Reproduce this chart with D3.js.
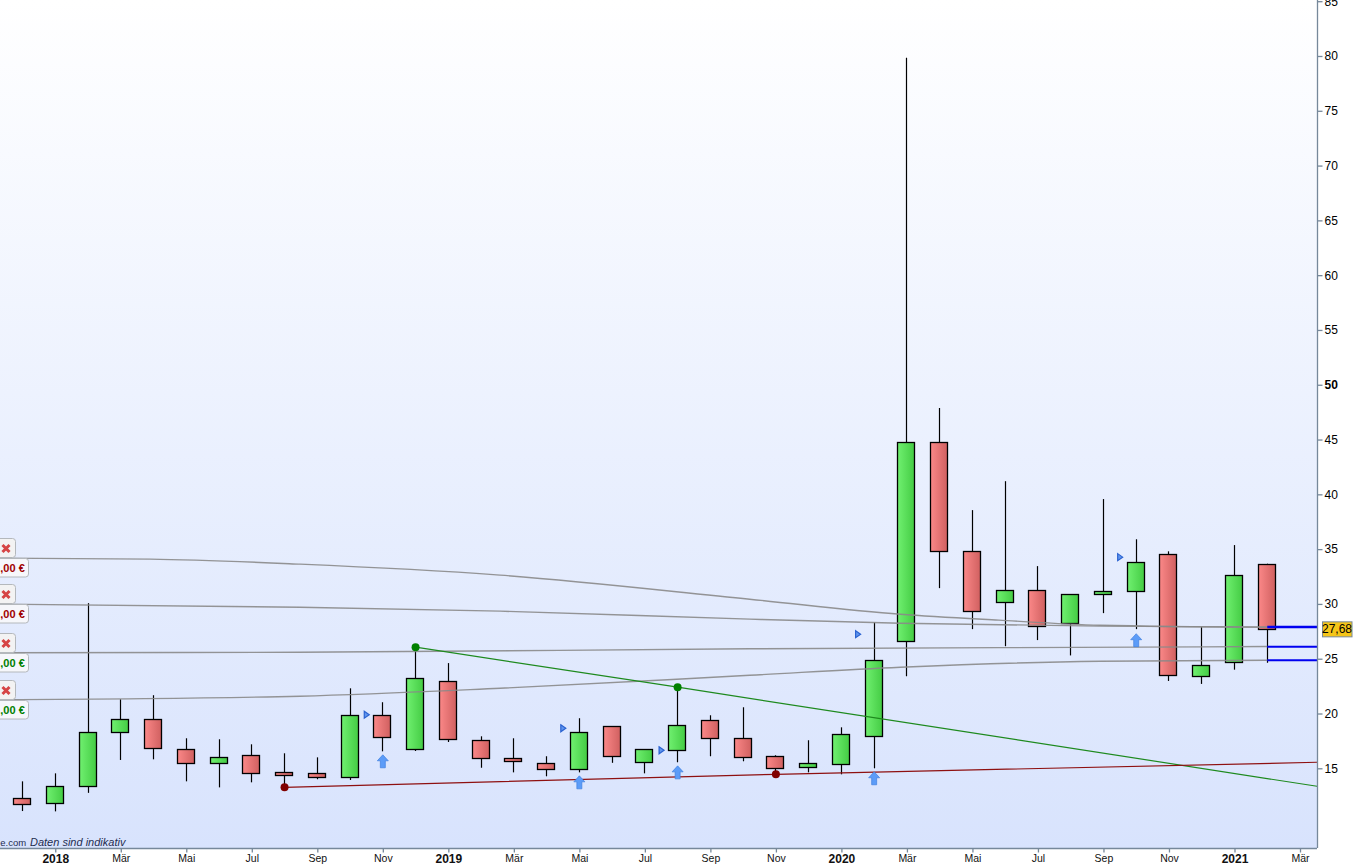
<!DOCTYPE html>
<html><head><meta charset="utf-8">
<script src="https://cdn.jsdelivr.net/npm/d3@7"></script>
<style>html,body{margin:0;padding:0;background:#fff;overflow:hidden}svg{display:block}text{font-family:"Liberation Sans",Arial,sans-serif}</style>
</head><body><svg id="c" width="1354" height="866"></svg>
<script>
const highs=[13.81,14.54,30.07,21.3,21.67,17.74,17.65,17.19,16.37,16.0,22.3,21.03,25.96,24.6,17.92,17.74,16.1,19.57,18.83,16.75,22.4,19.84,20.57,16.19,17.56,18.74,28.33,79.84,47.88,38.56,41.2,33.45,30.9,39.57,35.9,34.8,27.9,35.37,33.67];
const lows=[11.1,11.07,12.76,15.76,15.82,13.81,13.26,13.72,13.26,14.0,13.93,16.55,16.58,17.4,15.05,14.63,14.27,14.63,15.5,14.54,15.55,16.1,15.64,14.63,14.63,14.45,15.0,23.4,31.44,27.7,26.14,26.7,25.3,29.16,27.7,22.97,22.7,24.0,24.63];
const opens=[12.3,11.85,13.36,18.29,19.47,16.78,15.5,16.23,14.63,14.54,14.24,19.89,16.8,22.95,17.6,15.96,15.5,14.9,18.83,15.55,16.64,19.38,17.74,16.1,15.09,15.37,17.92,26.6,44.77,34.8,30.16,31.26,28.24,30.9,31.16,34.6,23.45,24.68,33.67];
const closes=[11.76,13.4,18.29,19.52,16.87,15.5,16.05,14.59,14.36,14.22,19.9,17.83,23.28,17.65,15.96,15.68,14.95,18.29,16.1,16.75,18.93,17.74,16.0,15.0,15.46,18.1,24.86,44.77,34.8,29.34,31.26,27.97,30.9,31.16,33.8,23.47,24.47,32.67,27.68];
const monthTicks=[1,3,5,7,9,11,13,15,17,19,21,23,25,27,29,31,33,35,37,39];
const monthLabels=["2018","Mär","Mai","Jul","Sep","Nov","2019","Mär","Mai","Jul","Sep","Nov","2020","Mär","Mai","Jul","Sep","Nov","2021","Mär"];
const priceTicks=[15,20,25,30,35,40,45,50,55,60,65,70,75,80,85];
const curveA=[[-0.69,34.18],[3.9,34.09],[8.47,33.63],[14.58,32.63],[22.2,30.43],[26.8,29.06],[29.8,28.52],[32.9,28.06],[38,27.88]];
const curveB=[[-0.69,29.98],[8.47,29.7],[14.58,29.34],[22.2,28.61],[26.8,28.24],[32.9,27.97],[38,27.88]];
const curveC=[[-0.69,25.55],[8.47,25.59],[22.2,25.91],[36,26.08],[38,26.11]];
const curveD=[[-0.69,21.26],[8.47,21.58],[14.58,22.3],[22.2,23.49],[26.8,24.22],[32.9,24.77],[38,24.86]];
const greenTrend=[[12,26.05],[20,22.4],[39.52,13.36]];
const redTrend=[[8,13.26],[23,14.45],[39.52,15.55]];
const greenDots=[[12,26.05],[20,22.4]];
const redDots=[[8,13.26],[23,14.45]];
const arrows=[[11,15.64],[17,13.72],[20,14.63],[26,14.09],[34,26.69]];
const flags=[[10.51,19.89],[16.51,18.65],[19.51,16.64],[25.51,27.24],[33.51,34.27]];
const blueLevels=[27.9,26.1,24.86];
const alertValues=[34.18,29.98,25.55,21.26];
const alertLabels=[",00 €",",00 €",",00 €",",00 €"];
const alertColors=["#a00000","#a00000","#008000","#008000"];
const currentPrice=27.68, currentLabel="27,68";

const W=1317,B=848;
const svg=d3.select("#c");
const x=d3.scaleLinear().domain([0,39]).range([22.5,1300]);
const y=d3.scaleLinear().domain([15,85]).range([768.3,1.2]);
const defs=svg.append("defs");
function grad(id,stops,x2,y2){const g=defs.append("linearGradient").attr("id",id).attr("x1",0).attr("y1",0).attr("x2",x2).attr("y2",y2);
 stops.forEach((c,i)=>g.append("stop").attr("offset",i/(stops.length-1)).attr("stop-color",c));}
grad("bg",["#ffffff","#d8e3fd"],0,1);
grad("up",["#70f070","#44cc44"],1,0);
grad("dn",["#fb8888","#d06060"],1,0);
svg.append("rect").attr("width",W).attr("height",B).attr("fill","url(#bg)");

// candles
const idx=d3.range(highs.length);
svg.append("g").selectAll("line").data(idx).join("line")
 .attr("x1",i=>Math.floor(x(i))+.5).attr("x2",i=>Math.floor(x(i))+.5)
 .attr("y1",i=>y(highs[i])).attr("y2",i=>y(lows[i])).attr("stroke","#000").attr("stroke-width",1.2);
svg.append("g").selectAll("rect").data(idx).join("rect")
 .attr("x",i=>Math.floor(x(i))-8.5).attr("width",17)
 .attr("y",i=>Math.round(y(Math.max(opens[i],closes[i])))+.5)
 .attr("height",i=>Math.max(2,Math.round(y(Math.min(opens[i],closes[i])))-Math.round(y(Math.max(opens[i],closes[i])))))
 .attr("fill",i=>closes[i]>=opens[i]?"url(#up)":"url(#dn)")
 .attr("stroke","#000").attr("stroke-width",1.3);

// curves
const line=d3.line().x(d=>x(d[0])).y(d=>y(d[1]));
const smooth=d3.line().x(d=>x(d[0])).y(d=>y(d[1])).curve(d3.curveMonotoneX);
[curveA,curveB,curveC,curveD].forEach(c=>svg.append("path").attr("d",smooth(c)).attr("fill","none").attr("stroke","#8a8a8a").attr("stroke-opacity",.9).attr("stroke-width",1.4));
svg.append("path").attr("d",line(greenTrend)).attr("fill","none").attr("stroke","#1e8a1e").attr("stroke-width",1.2);
svg.append("path").attr("d",line(redTrend)).attr("fill","none").attr("stroke","#8e1010").attr("stroke-width",1.2);
svg.append("g").selectAll("circle").data(greenDots).join("circle").attr("cx",d=>x(d[0])).attr("cy",d=>y(d[1])).attr("r",4).attr("fill","#008000");
svg.append("g").selectAll("circle").data(redDots).join("circle").attr("cx",d=>x(d[0])).attr("cy",d=>y(d[1])).attr("r",4).attr("fill","#800000");

// arrows & flags
const arrowShape="M0,-6.5L5.5,-0.5H2.5V6.5H-2.5V-0.5H-5.5Z", flagShape="M-2.5,-3.5L2.5,0L-2.5,3.5Z";
svg.append("g").selectAll("path").data(arrows).join("path").attr("d",arrowShape)
 .attr("transform",d=>`translate(${x(d[0])},${y(d[1])})`).attr("fill","#5c9cf8").attr("stroke","#3f7fe0").attr("stroke-width",.7);
svg.append("g").selectAll("path").data(flags).join("path").attr("d",flagShape)
 .attr("transform",d=>`translate(${x(d[0])},${y(d[1])})`).attr("fill","#5f95ee").attr("stroke","#2a62d0").attr("stroke-width",1.2);

// blue levels
svg.append("g").selectAll("line").data(blueLevels).join("line")
 .attr("x1",x(38)).attr("x2",W).attr("y1",d=>y(d)).attr("y2",d=>y(d))
 .attr("stroke","#0000f0").attr("stroke-width",(d,i)=>i==0?2.6:2);

// alert tags
const tags=svg.append("g").selectAll("g").data(alertValues).join("g").attr("transform",d=>`translate(0,${Math.round(y(d))})`);
tags.append("rect").attr("x",-6).attr("y",-19.5).attr("width",21.5).attr("height",19).attr("rx",3).attr("fill","#f3f3f3").attr("stroke","#b4b8bc");
tags.append("path").attr("d","M2.5,-13L9.5,-6M9.5,-13L2.5,-6").attr("stroke","#d64545").attr("stroke-width",3);
tags.append("rect").attr("x",-6).attr("y",.5).attr("width",34.5).attr("height",18.5).attr("rx",3).attr("fill","#f6f7fb").attr("stroke","#b4b8bc");
tags.append("text").attr("x",0.3).attr("y",14).attr("font-size",11).attr("font-weight","bold").attr("fill",(d,i)=>alertColors[i]).text((d,i)=>alertLabels[i]);

// source
const src=svg.append("text").attr("y",846).attr("font-size",11).attr("fill","#1f2d50");
src.append("tspan").attr("x",0.3).attr("font-size",9.5).text("e.com");
src.append("tspan").attr("x",30).attr("font-style","italic").text("Daten sind indikativ");

// axes
const yAxis=d3.axisRight(y).tickValues(priceTicks).tickSize(5).tickPadding(2).tickFormat(d3.format("d"));
const gy=svg.append("g").attr("transform",`translate(${W}.5,0)`).call(yAxis);
gy.select(".domain").attr("d",`M0,0V${B}`);
gy.selectAll(".tick text").attr("font-size",12).attr("font-family",'"Liberation Sans",Arial,sans-serif').attr("fill","#000")
 .attr("font-weight",d=>d===50?"bold":"normal");
const xAxis=d3.axisBottom(x).tickValues(monthTicks).tickSize(4).tickPadding(2).tickFormat((d,i)=>monthLabels[i]);
const gx=svg.append("g").attr("transform",`translate(0,${B}.5)`).call(xAxis);
gx.select(".domain").attr("d",`M0,0H${W}`);
gx.selectAll(".tick text").attr("font-family",'"Liberation Sans",Arial,sans-serif').attr("fill","#111")
 .attr("font-size",(d,i)=>/^\d/.test(monthLabels[i])?12:10.5)
 .attr("font-weight",(d,i)=>/^\d/.test(monthLabels[i])?"bold":"normal");
svg.selectAll(".domain,.tick line").attr("stroke","#76889a").attr("stroke-width",1.3);

// current price
const cp=svg.append("g").attr("transform",`translate(1322,${y(currentPrice)})`);
cp.append("rect").attr("x",.5).attr("y",-7.5).attr("width",29.5).attr("height",15).attr("fill","#f5c518").attr("stroke","#76889a");
cp.append("text").attr("x",15).attr("y",4).attr("text-anchor","middle").attr("font-size",12).attr("fill","#000").text(currentLabel);
</script></body></html>
